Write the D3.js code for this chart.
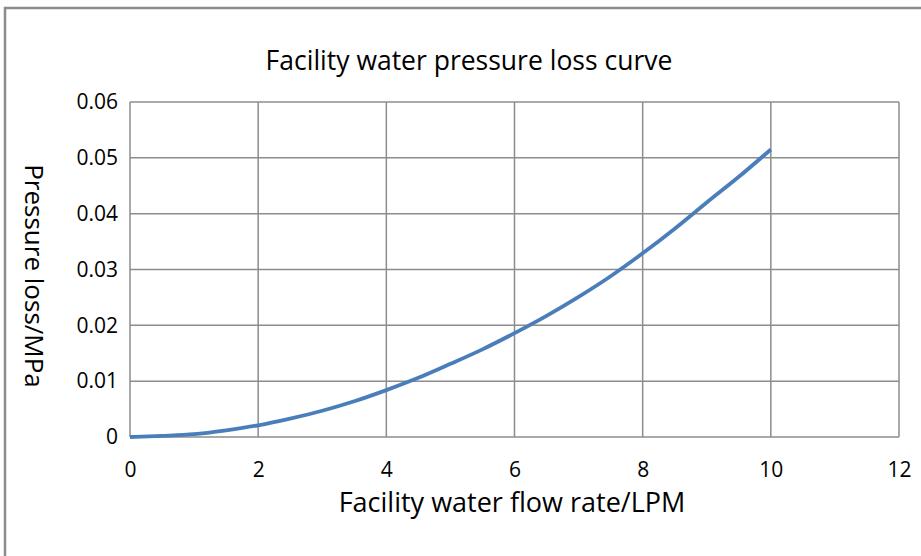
<!DOCTYPE html>
<html>
<head>
<meta charset="utf-8">
<script src="https://d3js.org/d3.v7.min.js"></script>
<style>
  body { margin: 0; background: #fff; }
  text { font-family: "Open Sans", "Noto Sans", sans-serif; fill: #000; }
</style>
</head>
<body>
<div id="chart"></div>
<script>
// flow rate (LPM) and pressure loss (MPa)
var flowRate = [0, 0.5, 1, 1.5, 2, 2.5, 3, 3.5, 4, 4.5, 5, 5.5, 6, 6.5, 7, 7.5, 8, 8.5, 9, 9.5, 10];
var pressureLoss = [0, 0.0002, 0.0005, 0.0012, 0.0021, 0.0033, 0.0047, 0.0064, 0.0084, 0.0106, 0.0131,
                    0.0157, 0.0186, 0.0217, 0.0251, 0.0288, 0.0329, 0.0373, 0.0420, 0.0466, 0.0515];
var xTicks = [0, 2, 4, 6, 8, 10, 12];
var yTicks = [0, 0.01, 0.02, 0.03, 0.04, 0.05, 0.06];

var W = 921, H = 556;
var margin = {top: 102, right: 22, bottom: 119, left: 130},
    width = W - margin.left - margin.right,
    height = H - margin.top - margin.bottom;

var root = d3.select("#chart").append("svg")
    .attr("width", W)
    .attr("height", H);

// outer chart border (only top and left visible in the reference)
root.append("rect")
    .attr("x", 5).attr("y", 8)
    .attr("width", W + 20).attr("height", H + 20)
    .attr("fill", "none")
    .attr("stroke", "#8c8c8c")
    .attr("stroke-width", 2.5);

var svg = root.append("g")
    .attr("transform", "translate(" + margin.left + "," + margin.top + ")");

var x = d3.scaleLinear().domain([0, 12]).range([0, width]);
var y = d3.scaleLinear().domain([0, 0.06]).range([height, 0]);

// grid
svg.append("g")
  .selectAll("line")
  .data(xTicks)
  .enter().append("line")
    .attr("x1", function(d) { return x(d); })
    .attr("x2", function(d) { return x(d); })
    .attr("y1", 0).attr("y2", height)
    .attr("stroke", "#8c8c8c")
    .attr("stroke-width", 1.5);

svg.append("g")
  .selectAll("line")
  .data(yTicks)
  .enter().append("line")
    .attr("y1", function(d) { return y(d); })
    .attr("y2", function(d) { return y(d); })
    .attr("x1", 0).attr("x2", width)
    .attr("stroke", "#8c8c8c")
    .attr("stroke-width", 1.5);

// X axis labels
var xAxis = svg.append("g")
    .attr("transform", "translate(0," + height + ")")
    .call(d3.axisBottom(x).tickValues(xTicks).tickSize(0).tickPadding(25).tickFormat(d3.format("d")));
xAxis.select(".domain").remove();
xAxis.selectAll("text").style("font-size", "21px");

// Y axis labels
var yAxis = svg.append("g")
    .call(d3.axisLeft(y).tickValues(yTicks).tickSize(0).tickPadding(12)
      .tickFormat(function(d) { return d === 0 ? "0" : d3.format(".2f")(d); }));
yAxis.select(".domain").remove();
yAxis.selectAll("text").style("font-size", "21px");

// curve
var line = d3.line()
    .x(function(d, i) { return x(flowRate[i]); })
    .y(function(d) { return y(d); })
    .curve(d3.curveMonotoneX);

svg.append("path")
    .datum(pressureLoss)
    .attr("fill", "none")
    .attr("stroke", "#4a7ebb")
    .attr("stroke-width", 3.8)
    .attr("stroke-linejoin", "round")
    .attr("d", line);

// titles
root.append("text")
    .attr("x", 469).attr("y", 70)
    .attr("text-anchor", "middle")
    .style("font-size", "26.5px")
    .text("Facility water pressure loss curve");

root.append("text")
    .attr("x", 512).attr("y", 512)
    .attr("text-anchor", "middle")
    .style("font-size", "27px")
    .text("Facility water flow rate/LPM");

root.append("text")
    .attr("transform", "translate(25,276) rotate(90)")
    .attr("text-anchor", "middle")
    .style("font-size", "26px")
    .text("Pressure loss/MPa");
</script>
</body>
</html>
